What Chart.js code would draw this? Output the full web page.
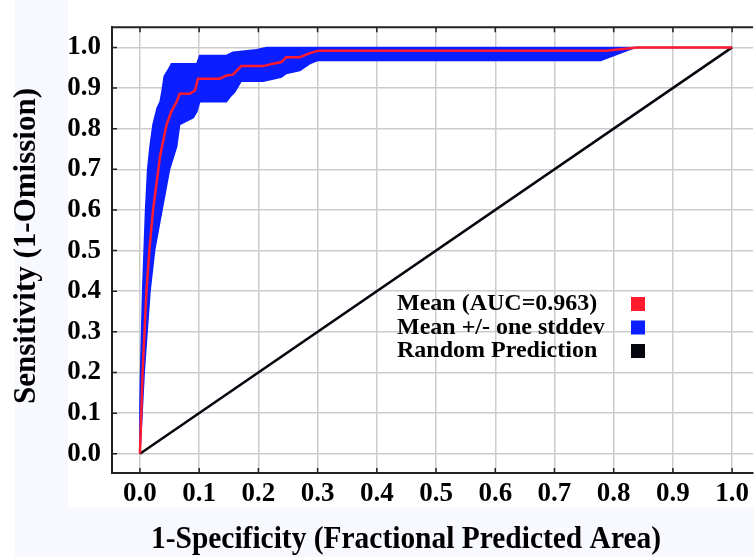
<!DOCTYPE html>
<html>
<head>
  <meta charset="UTF-8">
  <title>ROC</title>
  <script src="https://cdn.jsdelivr.net/npm/chart.js@4.4.0/dist/chart.umd.min.js"></script>
  <style>
    body { margin: 0; background: #fff; }
  </style>
</head>
<body>
  <canvas id="canvas" width="754" height="557"></canvas>
  <script>
    // 平均曲線 (x = 1-specificity, y = sensitivity)
    var meanX = [0, 0.0045, 0.011, 0.016, 0.022, 0.031, 0.034, 0.045, 0.053, 0.062, 0.067, 0.084, 0.093, 0.098, 0.135, 0.146, 0.157, 0.171, 0.208, 0.225, 0.239, 0.247, 0.270, 0.287, 0.301, 0.787, 0.84, 1.0];
    var meanY = [0, 0.203, 0.40, 0.503, 0.598, 0.70, 0.733, 0.81, 0.842, 0.866, 0.886, 0.886, 0.894, 0.923, 0.923, 0.931, 0.933, 0.954, 0.954, 0.960, 0.964, 0.976, 0.976, 0.986, 0.992, 0.992, 1.0, 1.0];

    // +1 stddev (上側)
    var upperX = [0, 0, 0.001, 0.0045, 0.007, 0.0095, 0.013, 0.017, 0.022, 0.029, 0.034, 0.037, 0.041, 0.051, 0.053, 0.096, 0.101, 0.146, 0.157, 0.197, 0.214, 1.0];
    var upperY = [0, 0.12, 0.2, 0.4, 0.5, 0.6, 0.7, 0.756, 0.81, 0.851, 0.866, 0.89, 0.929, 0.953, 0.96, 0.96, 0.98, 0.98, 0.988, 0.994, 1.0, 1.0];

    // -1 stddev (下側)
    var lowerX = [0, 0.0073, 0.017, 0.025, 0.037, 0.05, 0.062, 0.067, 0.090, 0.096, 0.101, 0.146, 0.152, 0.160, 0.171, 0.208, 0.225, 0.239, 0.247, 0.270, 0.287, 0.301, 0.778, 0.837, 1.0];
    var lowerY = [0, 0.203, 0.4, 0.503, 0.598, 0.70, 0.756, 0.81, 0.827, 0.842, 0.866, 0.866, 0.878, 0.89, 0.917, 0.917, 0.922, 0.927, 0.936, 0.943, 0.96, 0.968, 0.968, 1.0, 1.0];

    var randomX = [0, 1];
    var randomY = [0, 1];

    var tickVals = [0, 0.1, 0.2, 0.3, 0.4, 0.5, 0.6, 0.7, 0.8, 0.9, 1.0];
    var xTitle = "1-Specificity (Fractional Predicted Area)";
    var yTitle = "Sensitivity (1-Omission)";
    var labels = ["Mean (AUC=0.963)", "Mean +/- one stddev", "Random Prediction"];
    var colors = ["#ff1a2e", "#0a1eff", "#06060f"];

    function pts(xs, ys) {
      return xs.map(function (x, i) { return { x: x, y: ys[i] }; });
    }
    // 帯のポリゴン: 上側 → 下側(逆順)
    var band = pts(upperX, upperY).concat(pts(lowerX, lowerY).reverse());

    var FONT = "'Liberation Serif', 'Times New Roman', serif";

    var decor = {
      id: "decor",
      beforeDraw: function (chart) {
        var c = chart.ctx;
        c.save();
        c.fillStyle = "#ffffff";
        c.fillRect(0, 0, chart.width, chart.height);
        c.fillStyle = "#f7f9ff";
        c.fillRect(15, 0, chart.width - 15, chart.height);
        c.fillStyle = "#ffffff";
        c.fillRect(68, 0, chart.width - 68, 507);
        c.restore();
      },
      afterDatasetsDraw: function (chart) {
        var c = chart.ctx, a = chart.chartArea;
        var xs = chart.scales.x, ys = chart.scales.y;
        c.save();
        // 上枠
        c.strokeStyle = "#222";
        c.lineWidth = 2;
        c.beginPath();
        c.moveTo(a.left, a.top);
        c.lineTo(a.right, a.top);
        c.stroke();
        // 内向きの目盛り
        c.lineWidth = 1.5;
        c.beginPath();
        tickVals.forEach(function (v) {
          var px = xs.getPixelForValue(v);
          c.moveTo(px, a.top); c.lineTo(px, a.top + 5);
          c.moveTo(px, a.bottom); c.lineTo(px, a.bottom - 5);
          var py = ys.getPixelForValue(v);
          c.moveTo(a.left, py); c.lineTo(a.left + 5, py);
        });
        c.stroke();
        // 軸タイトル
        c.fillStyle = "#000";
        c.font = "bold 31px " + FONT;
        c.textAlign = "center";
        c.textBaseline = "middle";
        c.save();
        c.translate(406, 540);
        c.scale(0.95, 1);
        c.fillText(xTitle, 0, 0);
        c.restore();
        c.translate(27, 246);
        c.rotate(-Math.PI / 2);
        c.fillText(yTitle, 0, 0);
        c.restore();
        // 凡例
        c.save();
        c.font = "bold 24px " + FONT;
        c.textAlign = "left";
        c.textBaseline = "middle";
        for (var i = 0; i < labels.length; i++) {
          var y = 304 + i * 23.5;
          c.fillStyle = "#000";
          c.fillText(labels[i], 397, y);
          c.fillStyle = colors[i];
          c.fillRect(631, y - 7, 14, 14);
        }
        c.restore();
      }
    };

    var ctx = document.getElementById("canvas").getContext("2d");
    window.myChart = new Chart(ctx, {
      type: "scatter",
      data: {
        datasets: [
          {
            label: labels[1],
            data: band,
            order: 3,
            showLine: true,
            fill: "shape",
            backgroundColor: colors[1],
            borderColor: colors[1],
            borderWidth: 1.5,
            pointRadius: 0
          },
          {
            label: labels[0],
            data: pts(meanX, meanY),
            order: 1,
            showLine: true,
            borderColor: colors[0],
            borderWidth: 2.5,
            pointRadius: 0
          },
          {
            label: labels[2],
            data: pts(randomX, randomY),
            order: 2,
            showLine: true,
            borderColor: colors[2],
            borderWidth: 2.5,
            pointRadius: 0
          }
        ]
      },
      options: {
        responsive: false,
        animation: false,
        layout: { padding: { top: 9, right: 0, left: 0, bottom: 0 } },
        plugins: { legend: { display: false }, tooltip: { enabled: false } },
        scales: {
          x: {
            type: "linear",
            min: -0.0472,
            max: 1.0354,
            afterBuildTicks: function (s) { s.ticks = tickVals.map(function (v) { return { value: v }; }); },
            afterFit: function (s) { s.height = 84; },
            grid: { color: "#cccccc", lineWidth: 1.5, drawTicks: false },
            border: { color: "#222", width: 2 },
            ticks: {
              padding: 5,
              color: "#000",
              font: { family: FONT, size: 27, weight: "bold" },
              callback: function (v) { return v.toFixed(1); }
            }
          },
          y: {
            type: "linear",
            min: -0.0473,
            max: 1.0497,
            afterBuildTicks: function (s) { s.ticks = tickVals.map(function (v) { return { value: v }; }); },
            afterFit: function (s) { s.width = 112; },
            grid: { color: "#cccccc", lineWidth: 1.5, drawTicks: false },
            border: { color: "#222", width: 2 },
            ticks: {
              padding: 11,
              color: "#000",
              font: { family: FONT, size: 27, weight: "bold" },
              callback: function (v) { return v.toFixed(1); }
            }
          }
        }
      },
      plugins: [decor]
    });
  </script>
</body>
</html>
